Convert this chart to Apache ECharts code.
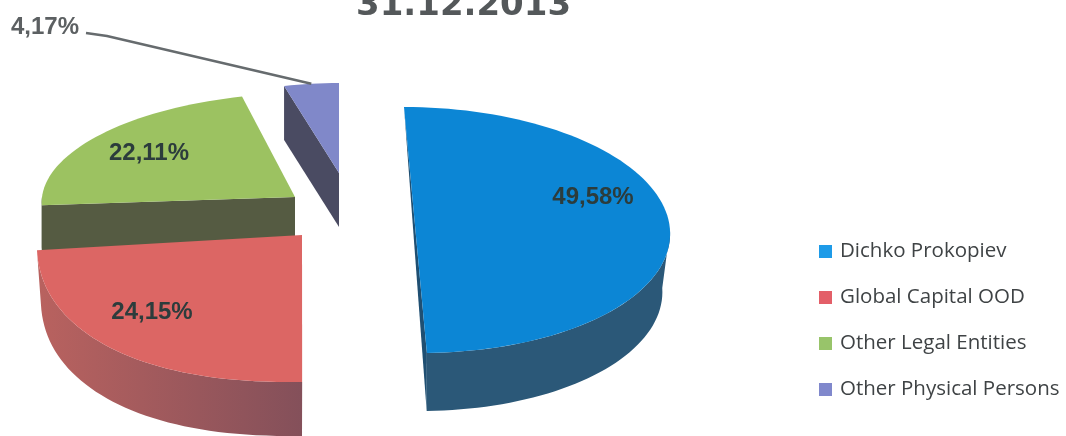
<!DOCTYPE html>
<html>
<head>
<meta charset="utf-8">
<style>
  html, body { margin: 0; padding: 0; background: #fff; }
  #chart { width: 1066px; height: 436px; }
</style>
</head>
<body>
<div id="chart"></div>
<script src="https://cdn.jsdelivr.net/npm/echarts@6/dist/echarts.min.js"></script>
<script>
const titleText = '31.12.2013'
const categories = ['Dichko Prokopiev', 'Global Capital OOD', 'Other Legal Entities', 'Other Physical Persons']
const shares = [49.58, 24.15, 22.11, 4.17]

// exploded slices: each has its own centre and ellipse
// k = perspective shear, low = lower rim narrower than the top, round = <1 gives a squarer arc
const sliceLayout = [
  { cx: 412, cy: 230, rx: 258, ry: 123, k: -8, low: 0.97, depth: 58, z: 4, top: '#0c86d5', wall: '#2b5878', edge: '#1f4f72', sliver: true, labelX: 593, labelY: 197 },
  { cx: 302, cy: 235, rx: 265, ry: 147, k: 10, low: 0.985, round: 0.9, depth: 54, z: 3, top: '#dc6664', wallGrad: ['#b9625f', '#84505a'], wall: '#a05a5c', labelX: 152, labelY: 312 },
  { cx: 295, cy: 197, rx: 253, ry: 104, k: 13, depth: 50, z: 1, top: '#9cc261', wall: '#555b42', radial: true, labelX: 149, labelY: 153 },
  { cx: 339, cy: 173, rx: 212, ry: 90, k: 0, depth: 54, z: 2, top: '#8088c9', wall: '#4a4b62', radial: true, labelX: 45, labelY: 27, leader: true }
]
const legendColors = ['#1e9be8', '#e35f68', '#98c46a', '#8088cc']

const total = shares.reduce((a, b) => a + b, 0)

const point = (s, deg, dy) => {
  const a = deg * Math.PI / 180
  const p = s.round || 1
  const sx = Math.sign(Math.sin(a)) * Math.pow(Math.abs(Math.sin(a)), p)
  const sy = Math.sign(Math.cos(a)) * Math.pow(Math.abs(Math.cos(a)), p)
  const rx = dy ? s.rx * (s.low || 1) : s.rx
  return [s.cx + rx * sx + s.k * Math.cos(a), s.cy - s.ry * sy + (dy || 0)]
}

const arc = (s, from, to, dy) => {
  const pts = []
  const n = Math.max(2, Math.ceil(Math.abs(to - from) / 2))
  for (let i = 0; i <= n; i++) {
    pts.push(point(s, from + (to - from) * i / n, dy))
  }
  return pts
}

const poly = (points, fill) => ({ type: 'polygon', shape: { points: points }, style: { fill: fill } })

const renderSlice = (index) => (params, api) => {
  const s = sliceLayout[index]
  const value = api.value(0)
  let start = 0
  for (let i = 0; i < index; i++) start += shares[i] / total * 360
  const end = start + value / total * 360
  const apex = [s.cx, s.cy]
  const apexLow = [s.cx, s.cy + s.depth]
  const children = []

  // radial cut face
  if (s.radial) {
    children.push(poly([point(s, start), apex, apexLow, point(s, start, s.depth)], s.wall))
  }
  if (s.sliver) {
    children.push(poly([point(s, start), point(s, end), point(s, end, s.depth)], s.edge))
  }

  // outer rim, only the part facing the viewer
  const from = Math.max(start, 90)
  const to = Math.min(end, 270)
  if (to > from) {
    const fill = s.wallGrad ? {
      type: 'linear', x: 0, y: 0, x2: 1, y2: 0,
      colorStops: [{ offset: 0, color: s.wallGrad[0] }, { offset: 1, color: s.wallGrad[1] }]
    } : s.wall
    children.push(poly(arc(s, from, to).concat(arc(s, to, from, s.depth)), fill))
  }

  // top face, the half disc has a straight edge so it needs no apex
  const topPoints = s.sliver ? arc(s, start, end) : [apex].concat(arc(s, start, end))
  children.push(poly(topPoints, s.top))

  if (s.leader) {
    const tip = point(s, (start + end) / 2)
    children.push({
      type: 'polyline',
      shape: { points: [[86, 33], [107, 36], tip] },
      style: { stroke: '#666b6e', lineWidth: 2.5, fill: null }
    })
  }

  children.push({
    type: 'text',
    style: {
      x: s.labelX,
      y: s.labelY,
      text: value.toFixed(2).replace('.', ',') + '%',
      align: 'center',
      verticalAlign: 'middle',
      fill: s.leader ? '#5c6062' : '#2c3c3c',
      font: 'bold 24px "Liberation Sans"'
    }
  })

  return { type: 'group', children: children }
}

const myChart = echarts.init(document.getElementById('chart'), null, { renderer: 'canvas' })

myChart.setOption({
  animation: false,
  backgroundColor: '#fff',
  title: {
    text: titleText,
    left: 351,
    top: -16,
    textStyle: { fontFamily: 'DejaVu Sans', fontWeight: 'bold', fontSize: 34, color: '#54585a' }
  },
  legend: {
    orient: 'vertical',
    left: 814,
    top: 236,
    icon: 'rect',
    itemWidth: 13,
    itemHeight: 13,
    itemGap: 25,
    data: categories,
    textStyle: { fontFamily: 'Open Sans', fontSize: 20.5, color: '#3f4345', padding: [0, 0, 0, 3] }
  },
  series: categories.map((name, i) => ({
    type: 'custom',
    name: name,
    coordinateSystem: 'none',
    z: sliceLayout[i].z,
    itemStyle: { color: legendColors[i] },
    renderItem: renderSlice(i),
    data: [[shares[i]]]
  }))
})
</script>
</body>
</html>
